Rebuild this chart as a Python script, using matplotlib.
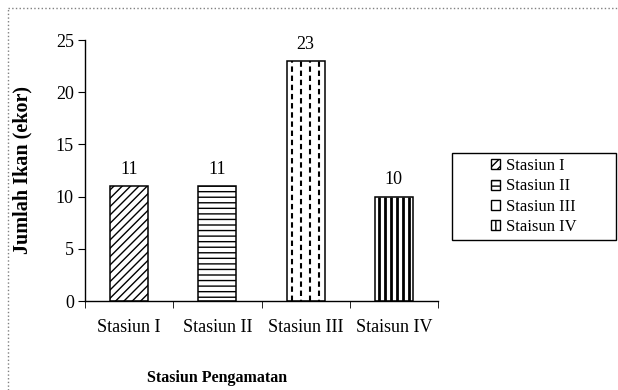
import matplotlib
matplotlib.use("Agg")
import matplotlib.pyplot as plt
from matplotlib.patches import Rectangle
from matplotlib.lines import Line2D

stations = ["Stasiun I", "Stasiun II", "Stasiun III", "Staisun IV"]
fish_count = [11, 11, 23, 10]

plt.rcParams["font.family"] = "Liberation Serif"

fig = plt.figure(figsize=(6.18, 3.9), dpi=100)
W, H = 618.0, 390.0
ax = fig.add_axes([85 / W, 1 - 301 / H, 353 / W, 261 / H])

x = range(len(stations))
bars = ax.bar(x, fish_count, width=0.43, color="white", edgecolor="black",
              linewidth=1.1)
bars[0].set_hatch("////")
bars[1].set_hatch("---")

# dashed vertical pattern for the third bar
b = bars[2]
for k in range(4):
    xi = b.get_x() + b.get_width() * (0.14 + 0.24 * k)
    ln = ax.vlines(xi, 0, b.get_height(), colors="black", linewidth=1.5,
                   linestyles=(k % 2 * 2, (2.6, 1.8)))
    ln.set_clip_path(b)

# thick vertical stripes for the fourth bar
b = bars[3]
for k in range(6):
    xi = b.get_x() + b.get_width() * (0.1 + 0.16 * k)
    ln = ax.vlines(xi, 0, b.get_height(), colors="black", linewidth=2.0)
    ln.set_clip_path(b)

for bar, v in zip(bars, fish_count):
    ax.annotate(str(v), (bar.get_x() + bar.get_width() / 2, v),
                xytext=(0, 6), textcoords="offset points",
                ha="center", va="bottom", fontsize=13)

ax.set_xlim(-0.5, len(stations) - 0.5)
ax.set_ylim(0, 25)
ax.set_yticks(range(0, 26, 5))
ax.set_xticks(list(x))
ax.set_xticklabels(stations)
ax.set_xticks([i - 0.5 for i in range(len(stations) + 1)], minor=True)
ax.tick_params(axis="x", which="major", length=0, pad=13, labelsize=13)
ax.tick_params(axis="x", which="minor", length=5, direction="out")
ax.tick_params(axis="y", length=5, direction="out", labelsize=13, pad=3)
for s in ("top", "right"):
    ax.spines[s].set_visible(False)
ax.spines["left"].set_linewidth(1.0)
ax.spines["bottom"].set_linewidth(1.0)

ax.set_xlabel("Stasiun Pengamatan", fontsize=11.5, fontweight="bold")
ax.xaxis.set_label_coords(0.375, -0.295)
ax.xaxis.label.set_va("center")
ax.set_ylabel("Jumlah Ikan (ekor)", fontsize=14.5, fontweight="bold")
ax.yaxis.set_label_coords(-0.178, 0.502)
ax.yaxis.label.set_va("center")

# legend swatches
handles = [
    Rectangle((0, 0), 1, 1, facecolor="white", edgecolor="black", hatch="////"),
    Rectangle((0, 0), 1, 1, facecolor="white", edgecolor="black", hatch="---"),
    Rectangle((0, 0), 1, 1, facecolor="white", edgecolor="black"),
    Rectangle((0, 0), 1, 1, facecolor="white", edgecolor="black", hatch="||"),
]
fig.patches.append(Rectangle((452 / W, 1 - 240 / H), 164 / W, 87 / H,
                             transform=fig.transFigure, fill=False,
                             edgecolor="black", linewidth=1.0))
fig.legend(handles=handles, labels=stations, loc="center",
           bbox_to_anchor=(534 / W, 1 - 196.5 / H), frameon=False,
           fontsize=12, handlelength=0.55, handleheight=0.55,
           handletextpad=0.35, labelspacing=0.25)

# dotted outer frame
fig.lines.append(Line2D([8 / W, 1], [1 - 8 / H, 1 - 8 / H], transform=fig.transFigure,
                        color="gray", linestyle=":", linewidth=1.0))
fig.lines.append(Line2D([8 / W, 8 / W], [0, 1 - 8 / H], transform=fig.transFigure,
                        color="gray", linestyle=":", linewidth=1.0))

fig.savefig("out.png", dpi=100)
